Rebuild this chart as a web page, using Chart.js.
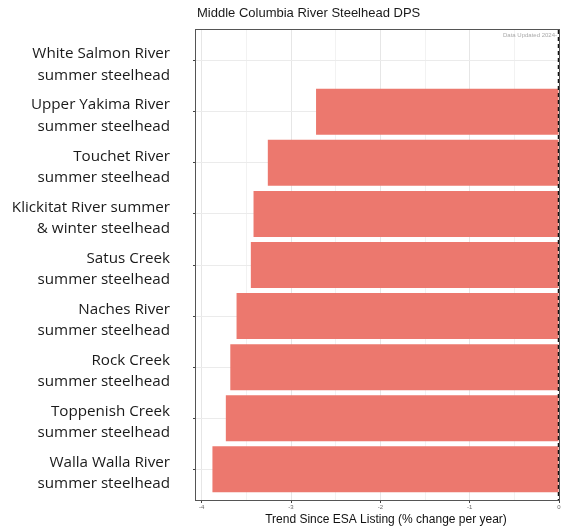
<!DOCTYPE html>
<html>
<head>
<meta charset="utf-8">
<script src="https://cdn.jsdelivr.net/npm/chart.js@4/dist/chart.umd.min.js"></script>
<style>
  body { margin: 0; background: #fff; }
  #wrap { width: 561px; height: 529px; position: relative; }
</style>
</head>
<body>
<div id="wrap"><canvas id="myChart"></canvas></div>
<script>

// populations, top to bottom
const populations = [
  ["White Salmon River", "summer steelhead"],
  ["Upper Yakima River", "summer steelhead"],
  ["Touchet River", "summer steelhead"],
  ["Klickitat River summer", "& winter steelhead"],
  ["Satus Creek", "summer steelhead"],
  ["Naches River", "summer steelhead"],
  ["Rock Creek", "summer steelhead"],
  ["Toppenish Creek", "summer steelhead"],
  ["Walla Walla River", "summer steelhead"]
];

// trend since ESA listing (% change per year), null = no estimate
const trend = [null, -2.72, -3.26, -3.42, -3.45, -3.61, -3.68, -3.73, -3.88];

const xTicks = [-4, -3, -2, -1, 0];

const chartTitle = "Middle Columbia River Steelhead DPS";
const xTitle = "Trend Since ESA Listing (% change per year)";
const noteText = "Data Updated 2024-";

// bars use index positions on a linear y scale
const points = [];
for (let i = 0; i < trend.length; i++) {
  if (trend[i] !== null) {
    points.push({ x: trend[i], y: i });
  }
}

// panel border, title, dashed zero line, note and axis title
const extras = {
  id: 'extras',
  afterDatasetsDraw(chart) {
    const ctx = chart.ctx;
    const a = chart.chartArea;
    const xs = chart.scales.x;
    ctx.save();

    // dashed line at zero
    const x0 = Math.round(xs.getPixelForValue(0)) - 0.5;
    ctx.strokeStyle = '#111';
    ctx.lineWidth = 1.5;
    ctx.setLineDash([4, 3]);
    ctx.beginPath();
    ctx.moveTo(x0, a.top);
    ctx.lineTo(x0, a.bottom);
    ctx.stroke();
    ctx.setLineDash([]);

    // panel border
    ctx.strokeStyle = '#555';
    ctx.lineWidth = 1;
    ctx.strokeRect(a.left - 0.5, a.top - 0.5, a.right - a.left + 1, a.bottom - a.top + 1);

    // note
    ctx.fillStyle = '#aaa';
    ctx.font = '6px "Liberation Sans", Arial, sans-serif';
    ctx.textAlign = 'right';
    ctx.textBaseline = 'alphabetic';
    ctx.fillText(noteText, a.right - 2, a.top + 7);

    // title
    ctx.fillStyle = '#1a1a1a';
    ctx.font = '13px "Liberation Sans", Arial, sans-serif';
    ctx.textAlign = 'left';
    ctx.fillText(chartTitle, a.left + 1, 17);

    // x axis title
    ctx.fillStyle = '#111';
    ctx.font = '12px "Liberation Sans", Arial, sans-serif';
    ctx.textAlign = 'center';
    ctx.fillText(xTitle, 386, 523);

    ctx.restore();
  }
};

const ctx = document.getElementById('myChart');

new Chart(ctx, {
  type: 'bar',
  data: {
    datasets: [{
      label: 'Trend',
      data: points,
      backgroundColor: '#EC786E',
      borderWidth: 0,
      barPercentage: 0.9,
      categoryPercentage: 1
    }]
  },
  options: {
    indexAxis: 'y',
    responsive: true,
    maintainAspectRatio: false,
    animation: false,
    layout: {
      padding: { top: 30, right: 2, bottom: 0, left: 0 }
    },
    plugins: {
      legend: { display: false },
      tooltip: { enabled: false },
      title: { display: false }
    },
    scales: {
      x: {
        type: 'linear',
        min: -4.064,
        max: 0,
        afterFit(scale) {
          scale.height = 29;
          scale.paddingLeft = 0;
          scale.paddingRight = 0;
        },
        afterBuildTicks(scale) {
          const t = [];
          for (let v = -4; v <= 0.001; v += 0.5) t.push({ value: Math.round(v * 10) / 10 });
          scale.ticks = t;
        },
        border: { display: false },
        grid: {
          color(c) {
            if (!c.tick) return 'transparent';
            return Number.isInteger(c.tick.value) ? '#e6e6e6' : '#f2f2f2';
          },
          tickColor(c) {
            if (!c.tick) return 'transparent';
            return xTicks.includes(c.tick.value) ? '#444' : 'transparent';
          },
          tickLength: 3,
          lineWidth: 1
        },
        ticks: {
          autoSkip: false,
          maxRotation: 0,
          padding: 1,
          color: '#666',
          font: { family: '"Liberation Sans", Arial, sans-serif', size: 6 },
          callback(v) {
            return xTicks.includes(v) ? String(v) : '';
          }
        }
      },
      y: {
        type: 'linear',
        min: -0.6,
        max: 8.6,
        reverse: true,
        offset: false,
        afterFit(scale) {
          scale.width = 196;
          scale.paddingTop = 0;
          scale.paddingBottom = 0;
        },
        afterBuildTicks(scale) {
          scale.ticks = populations.map((p, i) => ({ value: i }));
        },
        border: { display: false },
        grid: {
          offset: false,
          color: '#ebebeb',
          tickColor: '#444',
          tickLength: 3,
          lineWidth: 1
        },
        ticks: {
          autoSkip: false,
          padding: 23,
          labelOffset: 4,
          color: '#1a1a1a',
          font: { family: '"Open Sans", "Noto Sans", sans-serif', size: 15.2, lineHeight: 1.4 },
          callback(v) {
            return populations[v] || '';
          }
        }
      }
    }
  },
  plugins: [extras]
});

</script>
</body>
</html>
